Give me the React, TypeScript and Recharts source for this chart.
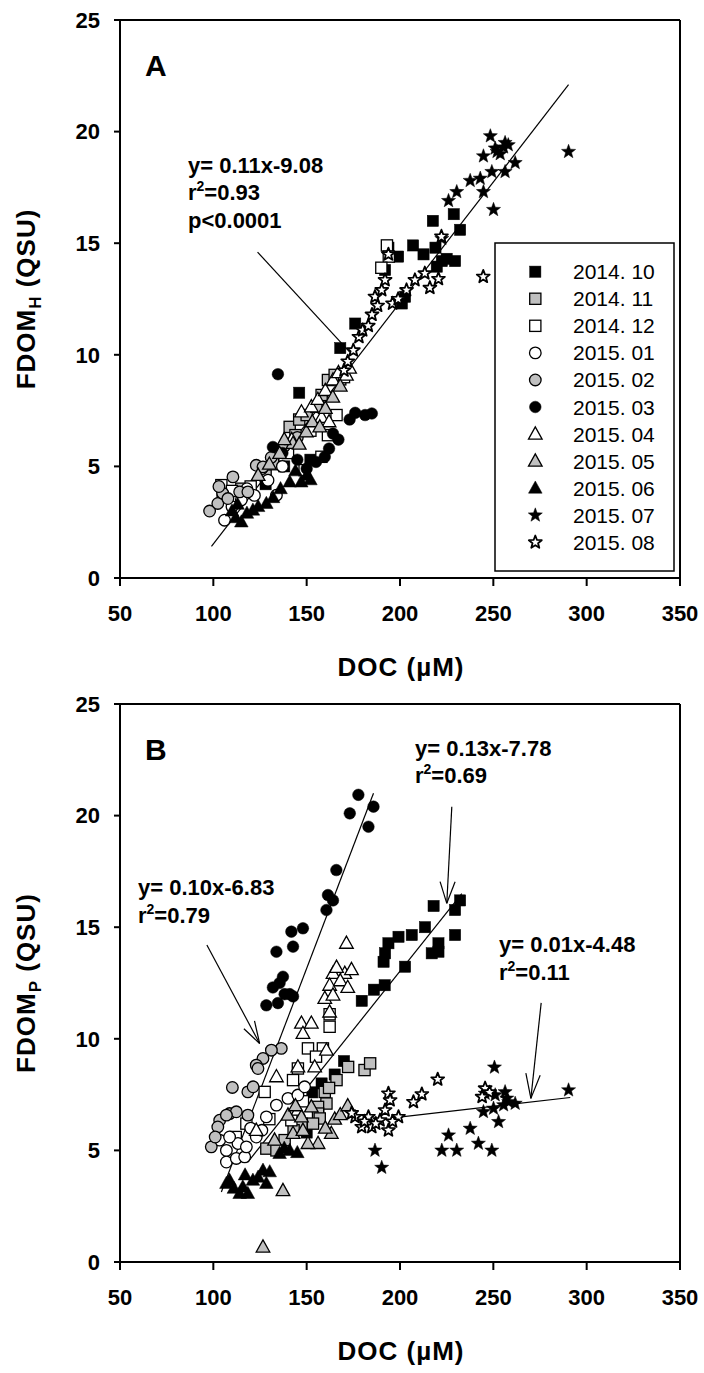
import React from 'react';
import { ScatterChart, Scatter, XAxis, YAxis, ReferenceLine } from 'recharts';

const FONT = '"Liberation Sans", Arial, Helvetica, sans-serif';

const X_TICKS = [50, 100, 150, 200, 250, 300, 350];
const Y_TICKS = [0, 5, 10, 15, 20, 25];
const MONTHS = ['2014. 10', '2014. 11', '2014. 12', '2015. 01', '2015. 02', '2015. 03', '2015. 04', '2015. 05', '2015. 06', '2015. 07', '2015. 08'];
const SHAPES = ['square', 'square', 'square', 'circle', 'circle', 'circle', 'triangle', 'triangle', 'triangle', 'star', 'star'];
const FILLS = ['#000', '#c0c0c0', '#fff', '#fff', '#c0c0c0', '#000', '#fff', '#c0c0c0', '#000', '#000', '#fff'];

// ---------- Panel A : FDOM_H vs DOC ----------
const A_1410 = [[146, 8.3], [168, 10.3], [176, 11.4], [193.8, 14.8], [199, 14.4], [207, 14.9], [212.6, 14.5], [217.6, 16.0], [219, 14.8], [222.4, 14.2], [228.8, 16.3], [229.5, 14.2], [232.2, 15.6], [192, 13.8], [202.7, 12.6], [201, 12.3], [219.7, 13.95], [225, 14.3], [138, 5.0], [152, 5.3], [128, 4.2]];
const A_1411 = [[105, 3.8], [115, 4.0], [128, 4.6], [136, 5.7], [140.9, 6.77], [146, 7.1], [150, 7.3], [155.2, 7.67], [158, 8.2], [161.4, 8.87], [165, 9.1], [168, 8.9], [144, 6.4], [132, 5.1]];
const A_1412 = [[104.3, 4.16], [110, 3.9], [148.9, 4.83], [157.9, 5.43], [161.4, 6.4], [152, 6.6], [166, 7.3], [170, 9.0], [193, 14.9], [194, 14.4], [190, 13.9], [120, 4.1], [140, 5.6]];
const A_1501 = [[106, 2.59], [110, 3.2], [115, 3.5], [122, 3.7], [129.3, 4.38], [133.8, 3.71], [126, 4.9], [137, 5.0], [118, 4.0]];
const A_1502 = [[98, 3.0], [102.4, 3.34], [105, 3.8], [107.8, 3.56], [110.5, 4.53], [114.1, 3.86], [118.5, 3.86], [123, 5.05], [126.6, 4.98], [131, 5.4], [138, 5.9], [145, 6.3], [103, 4.1]];
const A_1503 = [[134.6, 9.13], [131.9, 5.87], [137, 5.6], [145, 5.3], [155, 5.2], [159.7, 5.43], [162, 5.8], [164.1, 6.47], [167, 6.2], [173, 7.1], [176, 7.4], [181.3, 7.3], [184.9, 7.37], [150, 4.9]];
const A_1504 = [[147.2, 7.44], [152.5, 7.67], [156, 8.0], [160, 8.4], [164.1, 8.87], [167, 9.2], [171.3, 9.09], [173, 9.4], [158, 7.2], [162, 7.0], [142, 6.2]];
const A_1505 = [[124, 4.6], [130, 5.1], [135.5, 5.58], [142.7, 6.03], [149.8, 6.55], [153, 7.0], [157, 6.77], [160, 7.6], [164, 8.1], [168, 8.6], [146, 6.0], [138, 6.2]];
const A_1506 = [[110, 3.0], [112, 2.7], [115, 2.51], [118, 2.9], [121.2, 3.04], [124, 3.2], [128.4, 3.34], [132, 3.6], [136, 4.0], [140.9, 4.3], [147.1, 4.3], [150, 4.6], [144, 4.8], [113, 3.3], [152, 4.4]];
const A_1507 = [[248.4, 19.8], [244.7, 18.9], [251, 19.25], [255.5, 19.3], [256.3, 19.5], [253.7, 19.0], [261.7, 18.6], [256.3, 18.2], [249.2, 18.2], [243, 17.9], [237.6, 17.8], [244.7, 17.3], [230.4, 17.3], [226, 16.9], [250.1, 16.5], [290.3, 19.1], [222.4, 15.2], [252, 19.1], [258, 19.4]];
const A_1508 = [[170, 9.3], [172, 9.7], [175, 10.2], [178, 10.8], [180, 11.1], [183, 11.3], [185, 11.8], [186.6, 12.6], [188, 12.2], [190.2, 12.9], [192, 13.35], [193.8, 14.5], [196, 12.3], [199, 12.5], [203.5, 12.9], [208, 13.35], [213.3, 13.65], [216, 13.0], [220.6, 13.4], [222.2, 15.3], [244.6, 13.5]];
const A_SERIES = [A_1410, A_1411, A_1412, A_1501, A_1502, A_1503, A_1504, A_1505, A_1506, A_1507, A_1508];

const A_FIT = [[99, 1.42], [290.3, 22.1]];
const A_POINTER = [[123.7, 14.6], [173.1, 10.12]];

// ---------- Panel B : FDOM_P vs DOC ----------
const B_1410 = [[218, 15.95], [232.2, 16.2], [229.5, 15.77], [213.4, 15.0], [206.3, 14.65], [199.2, 14.57], [193.8, 14.28], [192, 13.83], [220.6, 14.28], [229.5, 14.65], [220.6, 13.9], [202.7, 13.23], [191.2, 13.45], [217, 13.83], [191.8, 12.4], [179.5, 11.7], [186, 12.2], [170, 9.0], [165, 8.4], [158, 8.0], [153, 7.6], [150, 5.8]];
const B_1411 = [[172.2, 8.74], [166, 8.15], [159.7, 7.62], [160.6, 7.1], [156.1, 6.95], [156.1, 6.65], [157, 6.43], [153.4, 6.2], [138.2, 5.46], [128.4, 5.08], [133.8, 5.0], [147.2, 6.2], [181, 8.6], [184, 8.9], [162, 7.8], [143, 5.9]];
const B_1412 = [[127.5, 7.62], [162.3, 10.54], [150.7, 9.57], [158.7, 9.57], [145.3, 8.67], [142.7, 8.15], [117.7, 6.2], [141.8, 6.35], [162.3, 11.1], [155, 9.2], [130, 6.4], [112, 5.6], [148, 7.2]];
const B_1501 = [[107, 4.48], [112.3, 4.64], [116.8, 4.71], [113.2, 5.31], [117.7, 5.16], [107, 5.0], [128.4, 6.5], [133.8, 7.03], [140, 7.33], [145.3, 7.48], [148.9, 7.85], [123, 5.6], [103.4, 5.46], [108.7, 5.6], [120, 6.0], [126, 5.9]];
const B_1502 = [[136.4, 9.57], [131.1, 9.49], [126.6, 9.12], [123, 8.82], [123.9, 8.67], [118.5, 7.62], [110.2, 7.82], [121.3, 7.85], [108.7, 6.65], [112.3, 6.73], [118.5, 6.58], [103.4, 6.35], [98.9, 5.16], [102.4, 6.05], [107, 6.58], [101, 5.6]];
const B_1503 = [[173.1, 20.1], [165.9, 17.56], [161.4, 16.44], [164.1, 16.2], [160.6, 15.77], [141.8, 14.8], [148, 14.95], [142.7, 14.13], [133.8, 13.9], [137.3, 12.78], [177.7, 20.93], [185.8, 20.4], [183.1, 19.5], [128.4, 11.5], [134.6, 11.6], [138.2, 12.0], [131.9, 12.3], [140.9, 12.0], [135.5, 12.5], [142.7, 11.9]];
const B_1504 = [[171.3, 14.28], [164.1, 12.93], [170.4, 12.93], [162.3, 12.4], [159.7, 11.81], [164.1, 11.96], [162.3, 11.2], [147.2, 10.7], [152.5, 10.7], [148, 10.24], [160.6, 9.49], [145.3, 8.74], [154.3, 8.74], [133.8, 8.3], [123, 5.9], [145.3, 6.8], [168, 12.6], [172, 12.3], [174, 13.1], [166, 13.2]];
const B_1505 = [[126.6, 0.67], [137.3, 3.2], [163.2, 5.76], [156.1, 5.31], [150.7, 5.31], [142.7, 5.76], [148, 5.9], [140, 6.58], [147.2, 6.5], [132.8, 5.46], [152.5, 6.95], [165, 6.4], [168, 6.6], [172, 7.0], [160, 6.0], [144, 7.0]];
const B_1506 = [[108.7, 3.66], [115.8, 3.36], [114.1, 3.07], [118.5, 3.07], [121.2, 3.66], [126.6, 4.11], [130.2, 4.04], [128.4, 3.52], [107, 3.52], [111, 3.3], [124, 3.8], [135.5, 4.86], [140.9, 5.0], [145, 4.9], [138, 5.1], [117, 3.9]];
const B_1507 = [[250.6, 8.72], [256.3, 7.62], [251, 7.48], [258.2, 7.17], [261.7, 7.1], [255.5, 7.03], [244.7, 6.73], [250.1, 6.88], [252.8, 6.28], [290.3, 7.7], [226, 5.68], [237.6, 5.98], [222.4, 5.0], [230.4, 5.0], [242, 5.31], [249.2, 5.0], [186.6, 5.0], [190.2, 4.23], [257.2, 7.33], [245.6, 7.55]];
const B_1508 = [[220.2, 8.18], [211.7, 7.52], [207.2, 7.17], [193.8, 7.55], [194.7, 7.25], [192, 6.8], [183.1, 6.5], [175.9, 6.5], [184.9, 6.05], [193.8, 5.9], [179.5, 6.05], [189.3, 6.35], [245.6, 7.78], [174.1, 6.67], [199.2, 6.5], [187, 6.2], [196, 6.3], [181, 6.3], [248, 7.6], [244, 7.4]];
const B_SERIES = [B_1410, B_1411, B_1412, B_1501, B_1502, B_1503, B_1504, B_1505, B_1506, B_1507, B_1508];

const B_FIT_STEEP = [[104.3, 3.14], [185.8, 21.0]];
const B_FIT_MID = [[118.5, 4.48], [233.1, 16.5]];
const B_FIT_FLAT = [[195, 6.45], [291.2, 7.37]];
const B_ARROW_1 = [[96.54, 14.2], [124.8, 9.79]];
const B_ARROW_1_HEAD = [[116.38, 10.45], [124.8, 9.79], [122.06, 10.8]];
const B_ARROW_2 = [[227.75, 20.4], [225.07, 16.07]];
const B_ARROW_2_HEAD = [[221.47, 17.04], [225.07, 16.07], [229.52, 17.04]];
const B_ARROW_3 = [[275.63, 11.61], [270.11, 7.33]];
const B_ARROW_3_HEAD = [[267.43, 8.46], [270.11, 7.33], [275.09, 8.37]];

const toPts = (arr: number[][]) => arr.map(([x, y]) => ({ x, y }));

function starPoints(cx: number, cy: number, R: number, r: number) {
  const pts: string[] = [];
  for (let i = 0; i < 10; i++) {
    const a = -Math.PI / 2 + (i * Math.PI) / 5;
    const rad = i % 2 === 0 ? R : r;
    pts.push(`${(cx + rad * Math.cos(a)).toFixed(2)},${(cy + rad * Math.sin(a)).toFixed(2)}`);
  }
  return pts.join(' ');
}

function Marker({ cx, cy, shape, fill }: { cx?: number; cy?: number; shape: string; fill: string }) {
  if (cx == null || cy == null || isNaN(cx) || isNaN(cy)) return null;
  const sw = fill === '#000' ? 0.5 : 1.3;
  if (shape === 'square') {
    return <rect x={cx - 5.6} y={cy - 5.6} width={11.2} height={11.2} fill={fill} stroke="#000" strokeWidth={sw} />;
  }
  if (shape === 'circle') {
    return <circle cx={cx} cy={cy} r={5.8} fill={fill} stroke="#000" strokeWidth={sw} />;
  }
  if (shape === 'triangle') {
    return <polygon points={`${cx},${cy - 7.2} ${cx - 6.8},${cy + 5} ${cx + 6.8},${cy + 5}`} fill={fill} stroke="#000" strokeWidth={sw} strokeLinejoin="miter" />;
  }
  if (fill === '#fff') {
    return <polygon points={starPoints(cx, cy, 6.8, 2.9)} fill="#fff" stroke="#000" strokeWidth={1.8} strokeLinejoin="round" />;
  }
  return <polygon points={starPoints(cx, cy, 7.4, 3.1)} fill="#000" stroke="#000" strokeWidth={0.5} />;
}

function EqText({ x, y, main, sup, size = 22 }: { x: number; y: number; main?: string; sup?: [string, string]; size?: number }) {
  if (sup) {
    return (
      <text x={x} y={y} fontSize={size} fontWeight={700} fontFamily={FONT} fill="#000">
        {sup[0]}
        <tspan fontSize={14} dy={-9}>2</tspan>
        <tspan dy={9}>{sup[1]}</tspan>
      </text>
    );
  }
  return (
    <text x={x} y={y} fontSize={size} fontWeight={700} fontFamily={FONT} fill="#000">{main}</text>
  );
}

function segLines(seg: number[][], key: string, w = 1.2) {
  const out: React.ReactNode[] = [];
  for (let i = 0; i < seg.length - 1; i++) {
    out.push(
      <ReferenceLine
        key={`${key}-${i}`}
        segment={[{ x: seg[i][0], y: seg[i][1] }, { x: seg[i + 1][0], y: seg[i + 1][1] }]}
        stroke="#000"
        strokeWidth={w}
        ifOverflow="visible"
      />
    );
  }
  return out;
}

function Panel({ series, segs, sub, letter, children, legend }: { series: number[][][]; segs: number[][][]; sub: string; letter: string; children?: React.ReactNode; legend?: boolean }) {
  return (
    <div style={{ position: 'relative', width: 704, height: 684 }}>
      <ScatterChart width={704} height={684} margin={{ top: 20, right: 24, bottom: 0, left: 0 }}>
        <XAxis
          type="number"
          dataKey="x"
          domain={[50, 350]}
          ticks={X_TICKS}
          interval={0}
          allowDataOverflow
          height={106}
          tickSize={8}
          tickMargin={19}
          axisLine={{ stroke: '#000', strokeWidth: 2 }}
          tickLine={{ stroke: '#000', strokeWidth: 2 }}
          tick={{ fill: '#000', fontSize: 22, fontWeight: 700, fontFamily: FONT }}
        />
        <YAxis
          type="number"
          dataKey="y"
          domain={[0, 25]}
          ticks={Y_TICKS}
          interval={0}
          allowDataOverflow
          width={120}
          tickSize={6}
          tickMargin={14}
          axisLine={{ stroke: '#000', strokeWidth: 2 }}
          tickLine={{ stroke: '#000', strokeWidth: 2 }}
          tick={{ fill: '#000', fontSize: 22, fontWeight: 700, fontFamily: FONT }}
        />
        <ReferenceLine y={25} stroke="#000" strokeWidth={2} />
        <ReferenceLine x={350} stroke="#000" strokeWidth={2} />
        {series.map((d, i) => (
          <Scatter
            key={MONTHS[i]}
            name={MONTHS[i]}
            data={toPts(d)}
            isAnimationActive={false}
            shape={(p: any) => <Marker cx={p.cx} cy={p.cy} shape={SHAPES[i]} fill={FILLS[i]} />}
          />
        ))}
        {segs.map((s, i) => segLines(s, `seg${i}`))}
      </ScatterChart>
      <svg width={704} height={684} style={{ position: 'absolute', left: 0, top: 0, pointerEvents: 'none' }}>
        <text x={145} y={76} fontSize={30} fontWeight={700} fontFamily={FONT} fill="#000">{letter}</text>
        <text transform="translate(35,299) rotate(-90)" textAnchor="middle" fontSize={26} fontWeight={700} fontFamily={FONT} fill="#000" letterSpacing={1}>
          FDOM
          <tspan fontSize={17} dy={6}>{sub}</tspan>
          <tspan dy={-6}> (QSU)</tspan>
        </text>
        <text x={401} y={676} textAnchor="middle" fontSize={26} fontWeight={700} fontFamily={FONT} fill="#000" letterSpacing={1}>
          DOC (µM)
        </text>
        {children}
        {legend && (
          <g>
            <rect x={495} y={243} width={179} height={328} fill="#fff" stroke="#000" strokeWidth={1.5} />
            {MONTHS.map((m, i) => {
              const cy = 271.7 + i * 27.06;
              return (
                <g key={m}>
                  <Marker cx={535.3} cy={cy} shape={SHAPES[i]} fill={FILLS[i]} />
                  <text x={573} y={cy + 7.5} fontSize={21} fontFamily={FONT} fill="#000">{m}</text>
                </g>
              );
            })}
          </g>
        )}
      </svg>
    </div>
  );
}

export default function App() {
  return (
    <div style={{ position: 'absolute', left: 0, top: 0, width: 704, height: 1373, background: '#fff' }}>
      <Panel series={A_SERIES} segs={[A_FIT, A_POINTER]} sub="H" letter="A" legend>
        <EqText x={188} y={173} main="y= 0.11x-9.08" />
        <EqText x={188} y={200} sup={['r', '=0.93']} />
        <EqText x={188} y={228} main="p<0.0001" />
      </Panel>
      <Panel
        series={B_SERIES}
        segs={[B_FIT_STEEP, B_FIT_MID, B_FIT_FLAT, B_ARROW_1, B_ARROW_1_HEAD, B_ARROW_2, B_ARROW_2_HEAD, B_ARROW_3, B_ARROW_3_HEAD]}
        sub="P"
        letter="B"
      >
        <EqText x={138} y={211} main="y= 0.10x-6.83" />
        <EqText x={138} y={239} sup={['r', '=0.79']} />
        <EqText x={415} y={72} main="y= 0.13x-7.78" />
        <EqText x={415} y={99} sup={['r', '=0.69']} />
        <EqText x={499} y={268} main="y= 0.01x-4.48" />
        <EqText x={499} y={296} sup={['r', '=0.11']} />
      </Panel>
    </div>
  );
}
